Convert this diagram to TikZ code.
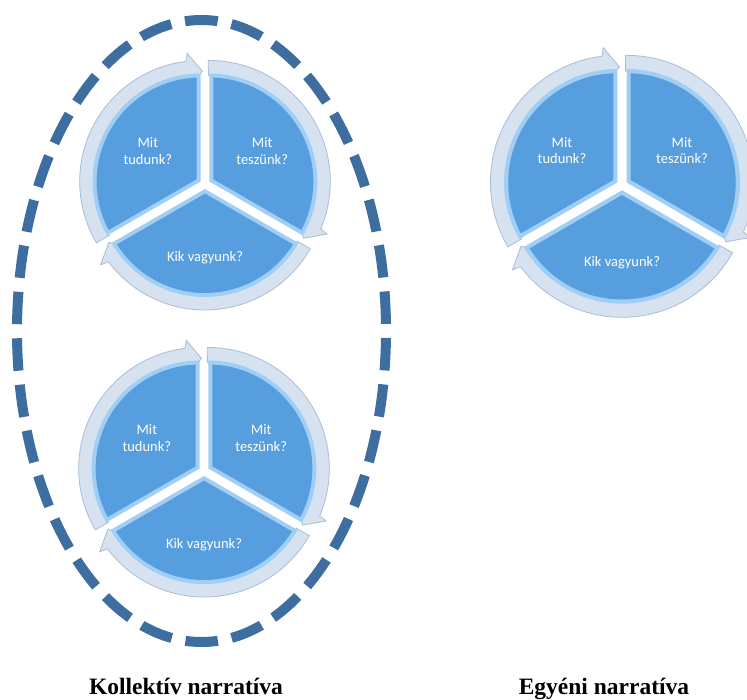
\documentclass[tikz,border=0pt]{standalone}
\usepackage{fontspec}
\setmainfont{Liberation Serif}
\newfontfamily\smartfont{Carlito}
\definecolor{WedgeBlue}{RGB}{86,158,222}
\definecolor{BevelLight}{RGB}{160,206,244}
\definecolor{RingFill}{RGB}{214,226,239}
\definecolor{RingLine}{RGB}{168,190,214}
\definecolor{DashBlue}{RGB}{62,110,160}

\begin{document}
\begin{tikzpicture}[
    x=1pt, y=-1pt,
    cycle arrow/.style={
        fill=RingFill, draw=RingLine, line width=0.8pt, line join=miter
    },
    wedge edge/.style={fill=BevelLight},
    wedge face/.style={fill=WedgeBlue},
    wedge text/.style={
        font=\smartfont\fontsize{14.5}{16.5}\selectfont, text=white,
        align=center, inner sep=0pt
    },
    narrative/.style={
        font=\fontsize{23.5}{28}\selectfont\bfseries, text=black,
        inner sep=0pt, anchor=base
    },
    dash ring/.style={
        draw=DashBlue, line width=10pt,
        dash pattern=on 32.5pt off 14.03pt, dash phase=16.25pt
    }
]
\useasboundingbox (0,0) rectangle (747,699);

% --- Three segmented cycles ---
\foreach \cx/\cy/\s/\w in {205/184/1/top, 204/471/1/mid, 622/185/1.05/right} {
    \begin{scope}[shift={(\cx,\cy)}, scale=\s]
        \foreach \a/\r/\txt/\n in {150/66/{Mit\\tudunk?}/tudunk,
                                   -90/66/{Mit\\teszünk?}/teszunk,
                                   30/74/{Kik vagyunk?}/kik} {
            \pgfmathsetmacro{\m}{\a+60}
            \pgfmathsetmacro{\e}{\a+120}
            \begin{scope}[shift={(\m:5)}]
                % arrow arc round the segment
                \filldraw[cycle arrow] (\a-0.5:106)
                    arc[start angle=\a-0.5, end angle=\e-1, radius=106]
                    -- (\e+1:110) -- (\e-6:129) -- (\e-7:121)
                    arc[start angle=\e-7, end angle=\a-0.5, radius=121]
                    -- cycle;
                % segment with bevel
                \fill[wedge edge] (0,0) -- (\a:108)
                    arc[start angle=\a, end angle=\e, radius=108] -- cycle;
                \fill[wedge face] (\m:4.6) -- (\a+2.2:104)
                    arc[start angle=\a+2.2, end angle=\e-2.2, radius=104]
                    -- cycle;
            \end{scope}
            \node[wedge text] (\w-\n) at (\m:\r) {\txt};
        }
    \end{scope}
}

% --- Dashed group outline ---
\draw[dash ring] (201.5,20)
    arc[start angle=-90, end angle=270, x radius=184.5, y radius=311];

% Captions
\node[narrative] (kollektiv) at (186,694) {Kollektív narratíva};
\node[narrative] (egyeni) at (604,694) {Egyéni narratíva};

\end{tikzpicture}
\end{document}
